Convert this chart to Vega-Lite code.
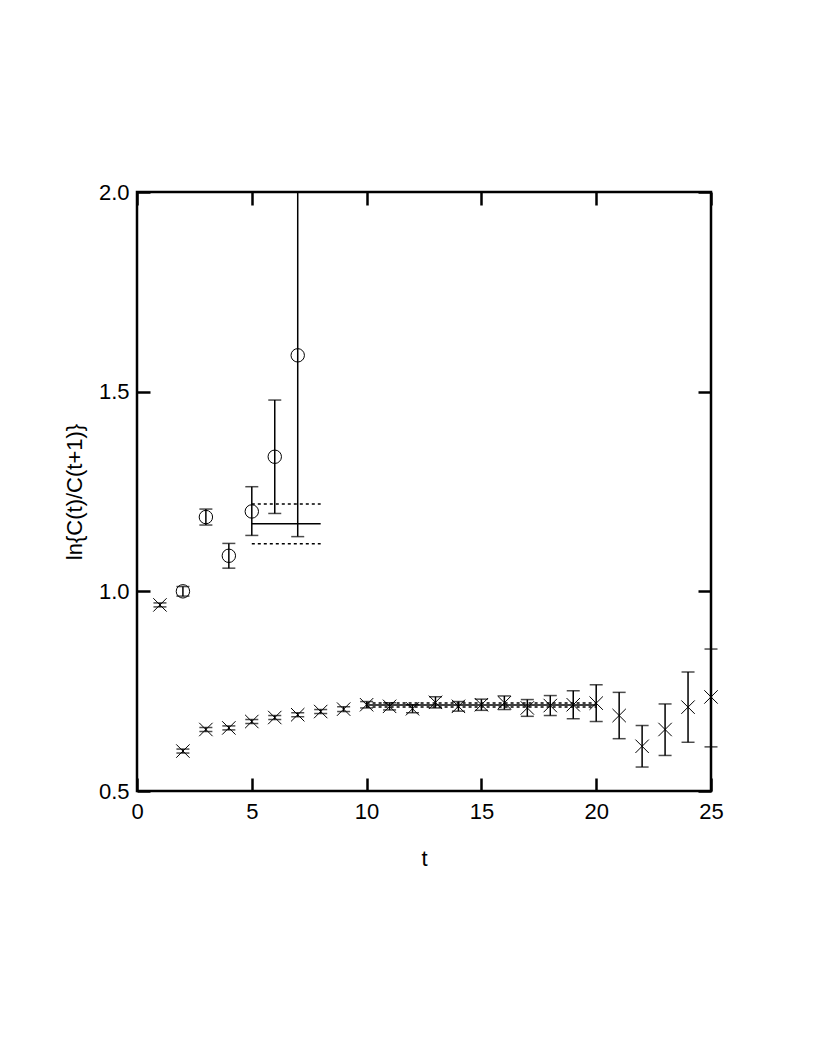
{
  "$schema": "https://vega.github.io/schema/vega-lite/v6.json",
  "width": 574,
  "height": 599,
  "autosize": {"type": "none"},
  "padding": {"left": 137, "top": 192, "right": 106, "bottom": 267},
  "background": "white",
  "config": {
    "view": {"stroke": "black", "strokeWidth": 2.5},
    "font": "Liberation Sans",
    "axis": {
      "grid": false,
      "domain": false,
      "ticks": true,
      "tickColor": "black",
      "tickWidth": 2.5,
      "tickSize": -13,
      "labelFlush": false,
      "labelFont": "Liberation Sans",
      "labelFontSize": 22,
      "labelColor": "black",
      "titleFont": "Liberation Sans",
      "titleFontSize": 22,
      "titleFontWeight": "normal",
      "titleColor": "black"
    }
  },
  "datasets": {
    "circ": [
      {"t": 2, "y": 1.000, "lo": 0.988, "hi": 1.012},
      {"t": 3, "y": 1.186, "lo": 1.166, "hi": 1.206},
      {"t": 4, "y": 1.089, "lo": 1.058, "hi": 1.120},
      {"t": 5, "y": 1.200, "lo": 1.140, "hi": 1.262},
      {"t": 6, "y": 1.337, "lo": 1.195, "hi": 1.479},
      {"t": 7, "y": 1.591, "lo": 1.137, "hi": 2.045}
    ],
    "cross": [
      {"t": 1, "y": 0.966, "lo": 0.961, "hi": 0.971},
      {"t": 2, "y": 0.600, "lo": 0.595, "hi": 0.605},
      {"t": 3, "y": 0.654, "lo": 0.649, "hi": 0.659},
      {"t": 4, "y": 0.658, "lo": 0.653, "hi": 0.663},
      {"t": 5, "y": 0.674, "lo": 0.669, "hi": 0.679},
      {"t": 6, "y": 0.684, "lo": 0.679, "hi": 0.689},
      {"t": 7, "y": 0.691, "lo": 0.686, "hi": 0.696},
      {"t": 8, "y": 0.699, "lo": 0.694, "hi": 0.704},
      {"t": 9, "y": 0.705, "lo": 0.699, "hi": 0.711},
      {"t": 10, "y": 0.716, "lo": 0.708, "hi": 0.724},
      {"t": 11, "y": 0.712, "lo": 0.703, "hi": 0.721},
      {"t": 12, "y": 0.706, "lo": 0.696, "hi": 0.716},
      {"t": 13, "y": 0.722, "lo": 0.708, "hi": 0.736},
      {"t": 14, "y": 0.712, "lo": 0.700, "hi": 0.724},
      {"t": 15, "y": 0.716, "lo": 0.702, "hi": 0.730},
      {"t": 16, "y": 0.721, "lo": 0.704, "hi": 0.738},
      {"t": 17, "y": 0.708, "lo": 0.687, "hi": 0.729},
      {"t": 18, "y": 0.714, "lo": 0.689, "hi": 0.739},
      {"t": 19, "y": 0.716, "lo": 0.681, "hi": 0.751},
      {"t": 20, "y": 0.720, "lo": 0.674, "hi": 0.766},
      {"t": 21, "y": 0.689, "lo": 0.631, "hi": 0.747},
      {"t": 22, "y": 0.612, "lo": 0.560, "hi": 0.664},
      {"t": 23, "y": 0.654, "lo": 0.589, "hi": 0.718},
      {"t": 24, "y": 0.710, "lo": 0.622, "hi": 0.798},
      {"t": 25, "y": 0.7355, "lo": 0.6105, "hi": 0.8555}
    ],
    "fits": [
      {"t0": 5, "t1": 8, "y": 1.169, "style": "solid"},
      {"t0": 5, "t1": 8, "y": 1.219, "style": "dash"},
      {"t0": 5, "t1": 8, "y": 1.119, "style": "dash"},
      {"t0": 10, "t1": 20, "y": 0.7155, "style": "solid"},
      {"t0": 10, "t1": 20, "y": 0.7205, "style": "dash"},
      {"t0": 10, "t1": 20, "y": 0.7105, "style": "dash"}
    ]
  },
  "layer": [
    {
      "data": {"name": "fits"},
      "transform": [{"filter": "datum.style === 'solid'"}],
      "mark": {"type": "rule", "color": "black", "strokeWidth": 1.5},
      "encoding": {
        "x": {"field": "t0", "type": "quantitative",
              "scale": {"domain": [0, 25], "nice": false, "zero": false},
              "axis": {"orient": "bottom", "values": [0, 5, 10, 15, 20, 25], "title": "t", "labelPadding": 23, "titlePadding": 26}},
        "x2": {"field": "t1"},
        "y": {"field": "y", "type": "quantitative",
              "scale": {"domain": [0.5, 2.0], "nice": false, "zero": false},
              "axis": {"orient": "left", "values": [0.5, 1.0, 1.5, 2.0], "format": ".1f", "title": "ln{C(t)/C(t+1)}", "labelPadding": 21, "titlePadding": 12}}
      }
    },
    {
      "data": {"name": "fits"},
      "transform": [{"filter": "datum.style === 'dash'"}],
      "mark": {"type": "rule", "color": "black", "strokeWidth": 1.5, "strokeDash": [3, 3]},
      "encoding": {
        "x": {"field": "t0", "type": "quantitative",
              "axis": {"orient": "top", "values": [0, 5, 10, 15, 20, 25], "labels": false, "title": null}},
        "x2": {"field": "t1"},
        "y": {"field": "y", "type": "quantitative",
              "axis": {"orient": "right", "values": [0.5, 1.0, 1.5, 2.0], "labels": false, "title": null}}
      }
    },
    {
      "data": {"name": "circ"},
      "mark": {"type": "rule", "color": "black", "strokeWidth": 1.5, "clip": true},
      "encoding": {
        "x": {"field": "t", "type": "quantitative", "axis": null},
        "y": {"field": "lo", "type": "quantitative", "axis": null},
        "y2": {"field": "hi"}
      }
    },
    {
      "data": {"name": "circ"},
      "mark": {"type": "tick", "color": "black", "thickness": 1.5, "size": 13, "orient": "horizontal", "clip": true},
      "encoding": {
        "x": {"field": "t", "type": "quantitative", "axis": null},
        "y": {"field": "lo", "type": "quantitative", "axis": null}
      }
    },
    {
      "data": {"name": "circ"},
      "mark": {"type": "tick", "color": "black", "thickness": 1.5, "size": 13, "orient": "horizontal", "clip": true},
      "encoding": {
        "x": {"field": "t", "type": "quantitative", "axis": null},
        "y": {"field": "hi", "type": "quantitative", "axis": null}
      }
    },
    {
      "data": {"name": "circ"},
      "mark": {"type": "point", "shape": "circle", "filled": false, "color": "black", "strokeWidth": 1, "size": 180, "opacity": 1},
      "encoding": {
        "x": {"field": "t", "type": "quantitative", "axis": null},
        "y": {"field": "y", "type": "quantitative", "axis": null}
      }
    },
    {
      "data": {"name": "cross"},
      "mark": {"type": "rule", "color": "black", "strokeWidth": 1.5},
      "encoding": {
        "x": {"field": "t", "type": "quantitative", "axis": null},
        "y": {"field": "lo", "type": "quantitative", "axis": null},
        "y2": {"field": "hi"}
      }
    },
    {
      "data": {"name": "cross"},
      "mark": {"type": "tick", "color": "black", "thickness": 1.5, "size": 13, "orient": "horizontal"},
      "encoding": {
        "x": {"field": "t", "type": "quantitative", "axis": null},
        "y": {"field": "lo", "type": "quantitative", "axis": null}
      }
    },
    {
      "data": {"name": "cross"},
      "mark": {"type": "tick", "color": "black", "thickness": 1.5, "size": 13, "orient": "horizontal"},
      "encoding": {
        "x": {"field": "t", "type": "quantitative", "axis": null},
        "y": {"field": "hi", "type": "quantitative", "axis": null}
      }
    },
    {
      "data": {"name": "cross"},
      "mark": {"type": "point", "shape": "M-1,-1L1,1M-1,1L1,-1", "filled": false, "color": "black", "strokeWidth": 1, "size": 180, "opacity": 1},
      "encoding": {
        "x": {"field": "t", "type": "quantitative", "axis": null},
        "y": {"field": "y", "type": "quantitative", "axis": null}
      }
    }
  ],
  "resolve": {"axis": {"x": "independent", "y": "independent"}}
}
